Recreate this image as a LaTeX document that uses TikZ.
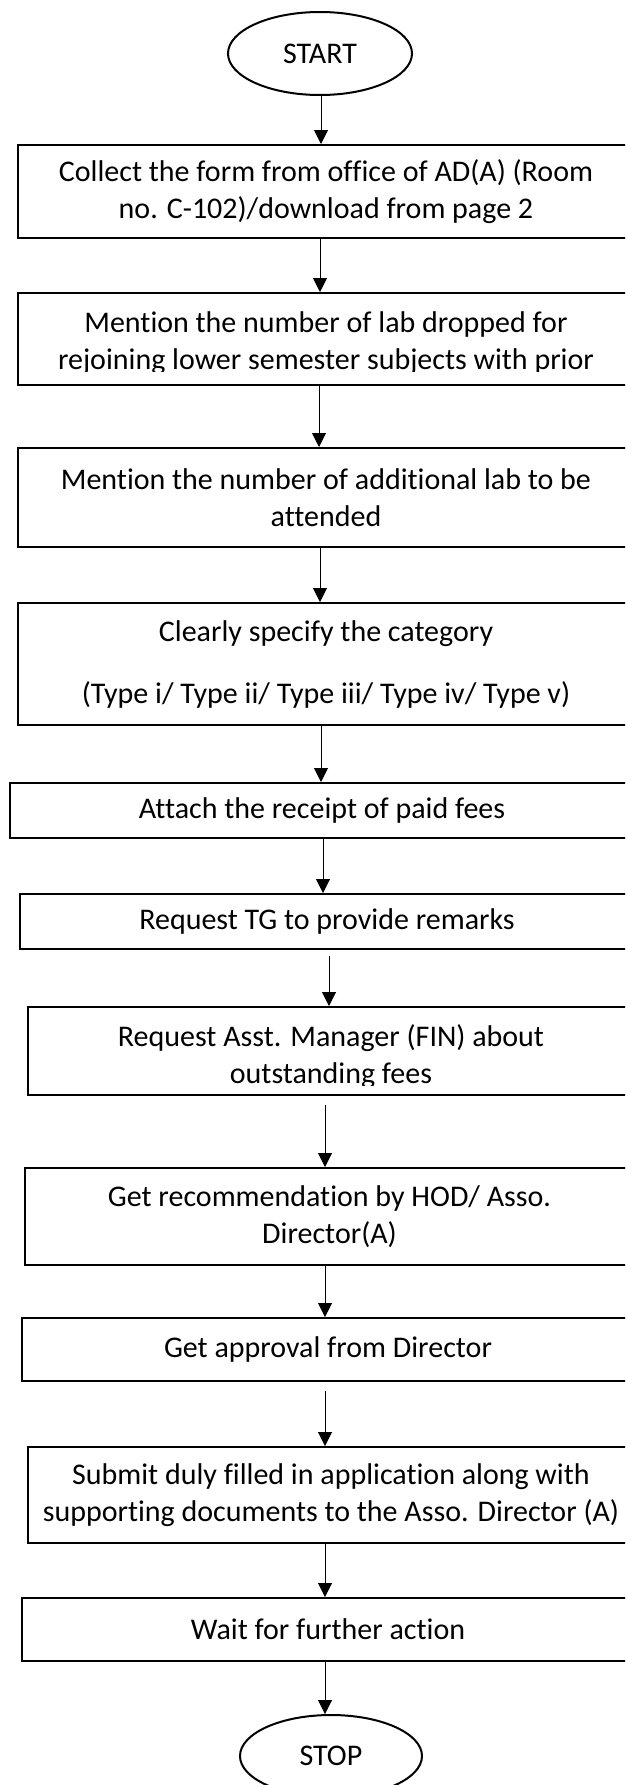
\documentclass[tikz,border=0pt]{standalone}
\usepackage{fontspec}
\setmainfont{Carlito}[Ligatures={NoCommon,NoContextual}]
\usetikzlibrary{arrows.meta,shapes.geometric}
\tikzset{
  boxnode/.style={draw, line width=2pt, rectangle, inner sep=0pt, align=center,
    font={\fontsize{30pt}{37pt}\selectfont}},
  txtnode/.style={inner sep=0pt, align=center, font={\fontsize{30pt}{37pt}\selectfont}},
  termnode/.style={draw, ellipse, line width=2pt, inner sep=0pt,
    minimum width=184pt, minimum height=83pt, font={\fontsize{30pt}{37pt}\selectfont}},
  arr/.style={line width=1pt, -{Triangle[width=14pt,length=14pt]}}
}
\begin{document}
\begin{tikzpicture}[x=1pt,y=-1pt]
\useasboundingbox (0,0) rectangle (625,1785);
\fill[white] (0,0) rectangle (625,1785);
\clip (0,0) rectangle (625,1785);

\node[termnode] (start) at (320,53.5) {START};

\node[boxnode, minimum width=616pt, minimum height=93pt] (b1) at (326,191.5)
  {Collect the form from office of AD(A) (Room\\no. C-102)/download from page 2};

\node[boxnode, minimum width=616pt, minimum height=92pt] (b2) at (326,339) {};
\begin{scope}
  \clip (0,293) rectangle (625,371);
  \node[txtnode] (t2) at (326,343.5)
    {Mention the number of lab dropped for\\rejoining lower semester subjects with prior};
\end{scope}

\node[boxnode, minimum width=616pt, minimum height=99pt] (b3) at (326,497.5)
  {Mention the number of additional lab to be\\attended};

\node[boxnode, minimum width=616pt, minimum height=122pt] (b4) at (326,664)
  {Clearly specify the category\\[25pt](Type i/ Type ii/ Type iii/ Type iv/ Type v)};

\node[boxnode, minimum width=624pt, minimum height=55pt] (b5) at (322,810.5)
  {Attach the receipt of paid fees};

\node[boxnode, minimum width=614pt, minimum height=55pt] (b6) at (327,921.5)
  {Request TG to provide remarks};

\node[boxnode, minimum width=606pt, minimum height=88pt] (b7) at (331,1051) {};
\begin{scope}
  \clip (0,1007) rectangle (625,1085);
  \node[txtnode] (t7) at (331,1057)
    {Request Asst. Manager (FIN) about\\outstanding fees};
\end{scope}

\node[boxnode, minimum width=609pt, minimum height=97pt] (b8) at (329.5,1216.5)
  {Get recommendation by HOD/ Asso.\\Director(A)};

\node[boxnode, minimum width=612pt, minimum height=63pt] (b9) at (328,1349.5)
  {Get approval from Director};

\node[boxnode, minimum width=606pt, minimum height=96pt] (b10) at (331,1495)
  {Submit duly filled in application along with\\supporting documents to the Asso. Director (A)};

\node[boxnode, minimum width=612pt, minimum height=63pt] (b11) at (328,1629.5)
  {Wait for further action};

\node[termnode, minimum width=182pt, minimum height=82pt] (stop) at (331,1756) {STOP};

\draw[arr] ([xshift=1pt]start.south) coordinate (p0) -- (p0 |- b1.north);
\draw[arr] ([xshift=-6pt]b1.south) coordinate (p1) -- (p1 |- b2.north);
\draw[arr] ([xshift=-7pt]b2.south) coordinate (p2) -- (p2 |- b3.north);
\draw[arr] ([xshift=-6pt]b3.south) coordinate (p3) -- (p3 |- b4.north);
\draw[arr] ([xshift=-5pt]b4.south) coordinate (p4) -- (p4 |- b5.north);
\draw[arr] ([xshift=1pt]b5.south) coordinate (p5) -- (p5 |- b6.north);
\draw[arr] ([xshift=2pt,yshift=-6pt]b6.south) coordinate (p6) -- (p6 |- b7.north);
\draw[arr] ([xshift=-6pt,yshift=-9pt]b7.south) coordinate (p7) -- (p7 |- b8.north);
\draw[arr] ([xshift=-4.5pt]b8.south) coordinate (p8) -- (p8 |- b9.north);
\draw[arr] ([xshift=-3pt,yshift=-9pt]b9.south) coordinate (p9) -- (p9 |- b10.north);
\draw[arr] ([xshift=-6pt]b10.south) coordinate (p10) -- (p10 |- b11.north);
\draw[arr] ([xshift=-3pt]b11.south) coordinate (p11) -- (p11 |- stop.north);
\end{tikzpicture}
\end{document}
